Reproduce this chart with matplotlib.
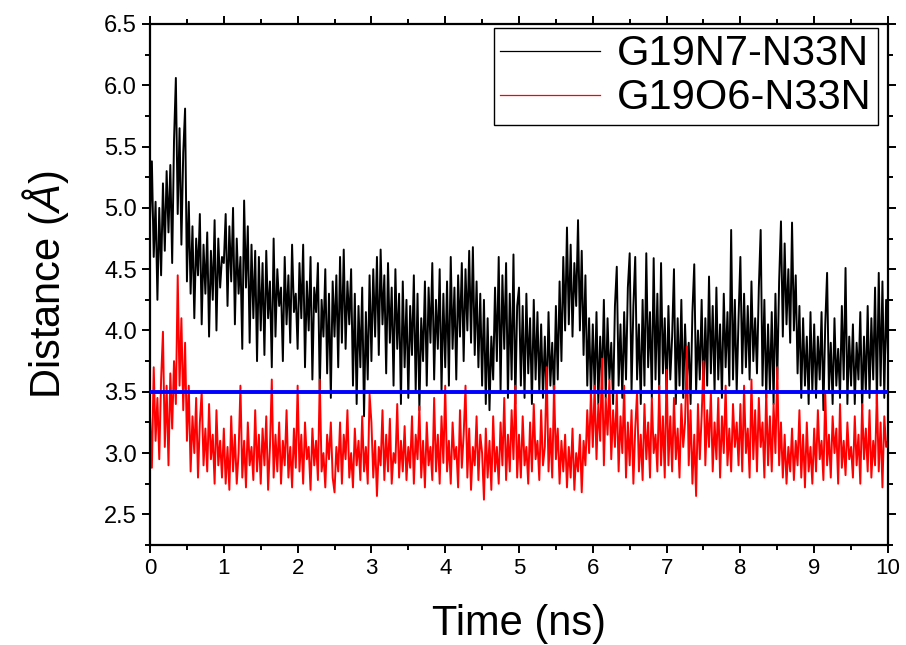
import numpy as np
import matplotlib
matplotlib.use("Agg")
import matplotlib.pyplot as plt
from matplotlib.ticker import MultipleLocator

# === Datos (paso de 0.025 ns) ===
black_n7 = [
    4.90, 5.38, 4.60, 5.05, 4.25, 5.00, 4.45, 5.20, 4.65, 5.30, 4.80, 5.35, 4.55, 5.55, 6.06, 4.95, 5.65, 4.70, 5.45, 5.81,
    4.40, 5.05, 4.30, 4.85, 4.10, 4.75, 4.45, 4.95, 4.05, 4.70, 4.30, 4.80, 3.95, 4.65, 4.25, 4.90, 4.00, 4.75, 4.35, 4.60,
    4.55, 4.95, 4.20, 4.85, 4.40, 5.00, 4.05, 4.75, 4.30, 4.60, 3.85, 5.06, 4.35, 4.85, 3.90, 4.70, 4.10, 4.65, 3.75, 4.60,
    4.00, 4.55, 3.80, 4.65, 4.10, 4.40, 3.70, 4.75, 3.95, 4.50, 4.20, 4.35, 3.75, 4.60, 4.05, 4.45, 3.90, 4.70, 4.15, 4.30,
    3.85, 4.55, 4.10, 4.70, 3.70, 4.40, 4.00, 4.60, 3.60, 4.35, 4.15, 4.55, 3.50, 4.25, 3.95, 4.50, 3.65, 4.30, 3.45, 4.40,
    3.95, 4.45, 3.70, 4.60, 3.90, 4.66, 3.85, 4.40, 4.05, 4.50, 3.55, 4.30, 3.40, 4.20, 3.70, 4.35, 3.30, 4.15, 3.60, 4.45,
    3.75, 4.50, 3.95, 4.60, 3.80, 4.66, 4.05, 4.45, 3.65, 4.55, 3.90, 4.35, 3.55, 4.50, 3.85, 4.30, 3.40, 4.40, 3.70, 4.25,
    3.45, 4.20, 3.80, 4.45, 3.50, 4.30, 3.35, 4.10, 3.75, 4.40, 3.55, 4.35, 3.90, 4.55, 3.60, 4.25, 3.85, 4.50, 3.50, 4.30,
    3.70, 4.40, 3.55, 4.60, 3.85, 4.35, 3.60, 4.45, 3.95, 4.55, 3.75, 4.50, 4.00, 4.65, 3.90, 4.68, 3.80, 4.40, 3.70, 4.30,
    3.55, 4.25, 3.40, 4.10, 3.35, 3.95, 3.60, 4.35, 3.75, 4.60, 3.50, 4.45, 3.85, 4.55, 3.45, 4.30, 3.60, 4.62, 3.40, 4.20,
    4.35, 3.55, 4.20, 3.45, 4.30, 3.65, 4.10, 3.40, 4.25, 3.60, 4.15, 3.50, 4.05, 3.45, 3.95, 3.40, 4.15, 3.55, 3.90, 3.45,
    4.20, 3.60, 4.40, 3.75, 4.60, 4.00, 4.84, 4.05, 4.70, 3.95, 4.55, 4.20, 4.90, 4.00, 4.65, 3.80, 4.45, 3.55, 4.10, 3.45,
    4.05, 3.50, 4.15, 3.40, 3.95, 3.55, 4.25, 3.45, 4.10, 3.60, 3.90, 3.40, 4.20, 4.52, 3.55, 4.05, 3.45, 4.15, 3.60, 4.35,
    4.63, 3.50, 4.20, 4.60, 3.60, 4.05, 3.40, 4.25, 3.55, 4.63, 3.70, 4.15, 3.45, 4.59, 3.60, 4.30, 3.50, 4.55, 3.65, 4.10,
    3.45, 4.20, 3.60, 3.95, 4.50, 3.40, 4.10, 3.55, 4.25, 3.45, 4.05, 3.60, 3.90, 3.40, 4.15, 4.54, 3.50, 4.00, 3.60, 4.25,
    3.45, 4.10, 3.55, 4.44, 3.65, 4.20, 3.50, 4.35, 3.60, 4.05, 3.45, 4.30, 3.70, 4.15, 3.55, 4.82, 3.60, 4.25, 3.50, 4.10,
    4.60, 3.65, 4.30, 3.70, 4.20, 3.60, 4.40, 3.75, 4.10, 3.65, 4.35, 4.82, 3.55, 4.25, 3.45, 4.05, 3.50, 4.15, 3.40, 4.30,
    3.60, 4.40, 4.89, 3.95, 4.71, 4.05, 4.50, 3.90, 4.88, 4.00, 4.45, 3.65, 4.20, 3.45, 4.10, 3.55, 3.95, 3.40, 4.15, 3.50,
    4.05, 3.45, 3.95, 3.60, 4.15, 3.35, 4.05, 4.47, 3.50, 3.90, 3.40, 4.10, 3.55, 3.85, 3.45, 4.20, 3.60, 4.51, 3.40, 3.95,
    3.55, 4.05, 3.40, 3.90, 3.60, 4.15, 3.35, 3.95, 3.50, 4.20, 3.45, 4.10, 3.60, 4.35, 3.40, 4.47, 3.55, 4.40, 3.45, 4.25,
    3.80,
]

red_o6 = [
    3.30, 2.88, 3.70, 3.10, 3.45, 2.95, 3.60, 3.99, 3.05, 3.55, 2.90, 3.65, 3.20, 3.75, 3.40, 4.45, 3.55, 4.10, 3.35, 3.90,
    3.10, 3.55, 2.85, 3.30, 3.00, 3.45, 2.80, 3.25, 3.50, 2.90, 3.20, 2.85, 3.40, 2.95, 3.15, 2.75, 3.35, 2.90, 3.10, 2.80,
    3.20, 2.75, 3.05, 2.70, 3.30, 2.85, 3.15, 2.75, 3.00, 3.55, 2.80, 3.10, 2.72, 3.25, 2.90, 3.05, 2.78, 3.35, 2.85, 3.15,
    2.75, 3.20, 2.90, 3.30, 2.70, 3.05, 3.60, 2.80, 3.15, 2.85, 3.25, 2.75, 3.10, 2.90, 3.35, 2.80, 3.05, 2.72, 3.20, 2.88,
    3.55, 2.85, 3.15, 2.75, 3.25, 2.95, 3.05, 2.70, 3.20, 2.90, 3.10, 2.78, 3.60, 2.85, 3.00, 2.72, 3.15, 2.95, 3.25, 2.80,
    2.68, 3.05, 2.85, 3.25, 2.75, 3.15, 2.95, 3.35, 2.80, 3.00, 2.72, 3.20, 2.90, 3.10, 2.78, 3.30, 2.85, 3.05, 2.75, 3.48,
    3.25, 2.80, 3.10, 2.65, 3.05, 2.90, 3.35, 2.78, 3.15, 2.85, 3.28, 2.75, 3.00, 2.92, 3.40, 2.80, 3.10, 2.85, 3.22, 2.78,
    3.05, 2.88, 3.30, 2.75, 3.15, 2.95, 3.38, 2.80, 3.10, 2.72, 3.25, 2.90, 3.05, 2.78, 3.45, 2.85, 3.15, 2.75, 3.30, 2.92,
    3.55, 2.85, 3.10, 2.75, 3.25, 2.95, 3.05, 2.72, 3.35, 2.88, 3.15, 3.55, 2.80, 3.20, 2.70, 3.05, 2.90, 3.30, 2.78, 3.15,
    3.00, 2.62, 3.20, 2.80, 3.10, 2.70, 3.30, 2.85, 3.05, 2.75, 3.25, 2.90, 3.45, 2.78, 3.15, 2.85, 3.35, 2.95, 3.55, 2.80,
    3.15, 2.80, 3.30, 2.90, 3.05, 2.75, 3.25, 2.85, 3.40, 2.95, 3.10, 2.78, 3.35, 2.90, 3.05, 3.70, 2.85, 3.20, 2.80, 3.55,
    2.95, 3.20, 2.75, 3.10, 2.85, 3.15, 2.72, 3.05, 2.80, 3.20, 2.70, 3.00, 2.85, 3.15, 2.68, 3.10, 2.90, 3.35, 3.00, 3.50,
    3.05, 3.55, 2.95, 3.40, 3.10, 3.77, 2.90, 3.45, 3.15, 3.60, 2.95, 3.35, 3.05, 3.50, 2.85, 3.30, 3.00, 3.55, 2.80, 3.25,
    2.90, 3.35, 2.75, 3.20, 3.50, 2.85, 3.15, 2.78, 3.40, 2.95, 3.25, 2.80, 3.45, 3.00, 3.15, 2.85, 3.55, 2.90, 3.30, 2.80,
    3.68, 2.90, 3.30, 2.85, 3.45, 2.95, 3.20, 2.80, 3.40, 3.05, 3.25, 3.87, 2.90, 3.35, 2.75, 3.15, 2.65, 3.40, 2.95, 3.30,
    3.75, 2.90, 3.35, 3.05, 3.50, 2.85, 3.25, 2.95, 3.45, 2.80, 3.30, 3.00, 3.55, 2.90, 3.20, 2.85, 3.40, 3.05, 3.25, 2.90,
    3.40, 2.85, 3.55, 3.00, 3.20, 2.80, 3.60, 2.95, 3.35, 2.85, 3.45, 3.05, 3.25, 2.80, 3.50, 2.90, 3.30, 2.85, 3.40, 3.00,
    3.70, 2.90, 3.25, 2.80, 3.15, 2.75, 3.05, 2.85, 3.20, 2.78, 3.10, 2.90, 3.35, 2.80, 3.15, 2.72, 3.25, 2.85, 3.05, 2.75,
    3.20, 2.85, 3.35, 2.95, 3.10, 2.78, 3.50, 2.90, 3.15, 2.80, 3.30, 3.00, 3.20, 2.75, 3.40, 2.88, 3.10, 2.82, 3.25, 2.95,
    3.05, 2.80, 3.30, 2.90, 3.15, 2.75, 3.40, 2.95, 3.20, 2.85, 3.35, 2.80, 3.10, 2.90, 3.50, 2.85, 3.25, 2.72, 3.30, 3.05,
    3.10,
]

labels = ["G19N7-N33N", "G19O6-N33N"]
cutoff = 3.5
t_end = 10.0

time = np.linspace(0, t_end, len(black_n7))

# === Estilo ===
plt.rcParams["font.family"] = ["Liberation Sans", "DejaVu Sans"]
plt.rcParams["mathtext.fontset"] = "custom"
plt.rcParams["mathtext.rm"] = "Liberation Sans"
plt.rcParams["mathtext.it"] = "Liberation Sans:italic"

fig = plt.figure(figsize=(9.06, 6.45), dpi=100)
ax = fig.add_axes([0.1656, 0.155, 0.8145, 0.8078])

ax.plot(time, black_n7, color="black", linewidth=1.4, label=labels[0])
ax.plot(time, red_o6, color="red", linewidth=1.4, label=labels[1])
ax.axhline(cutoff, color="#0000ff", linewidth=2.8, zorder=5)

ax.set_xlim(0, 10)
ax.set_ylim(2.25, 6.5)
ax.xaxis.set_major_locator(MultipleLocator(1))
ax.xaxis.set_minor_locator(MultipleLocator(0.5))
ax.yaxis.set_major_locator(MultipleLocator(0.5))
ax.yaxis.set_minor_locator(MultipleLocator(0.25))
ax.yaxis.set_major_formatter(matplotlib.ticker.FormatStrFormatter("%.1f"))

for s in ax.spines.values():
    s.set_linewidth(1.6)
ax.tick_params(which="both", direction="out", width=1.4, top=True, right=True)
ax.tick_params(which="major", length=6)
ax.tick_params(which="minor", length=3.5)
ax.tick_params(axis="y", labelsize=17)
ax.tick_params(axis="x", labelsize=16)

ax.set_xlabel("Time (ns)", fontsize=30, labelpad=18)
ax.set_ylabel("Distance ($\\mathit{Å}$)", fontsize=30, labelpad=24)

leg = ax.legend(loc="upper right", bbox_to_anchor=(0.9864, 0.9923), fontsize=30,
                frameon=True, fancybox=False, edgecolor="black", framealpha=1,
                handlelength=2.4, borderpad=0.15, labelspacing=0.1, handletextpad=0.4,
                borderaxespad=0)
leg.get_frame().set_linewidth(1.0)
for h in leg.get_lines():
    h.set_linewidth(0.9)

fig.savefig("out.png", dpi=100)
